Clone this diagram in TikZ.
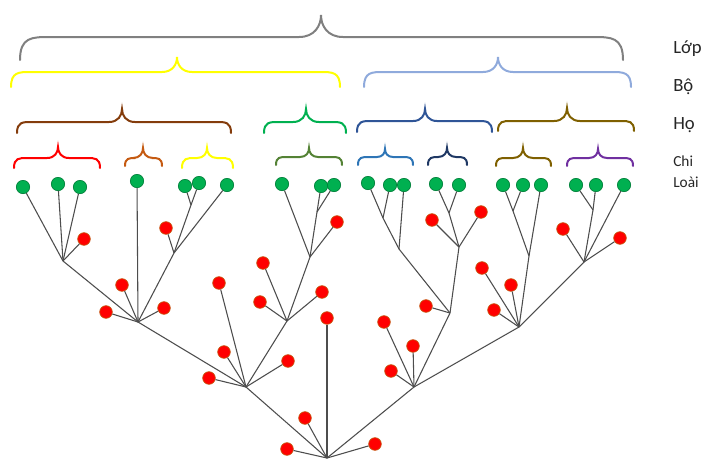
\documentclass[tikz,border=0pt]{standalone}
\usepackage{fontspec}
\setmainfont{Carlito}
\definecolor{leafg}{HTML}{00B050}
\definecolor{leafb}{HTML}{00803A}
\definecolor{redf}{HTML}{FF0000}
\definecolor{redb}{HTML}{C55A11}
\definecolor{linec}{HTML}{4D4D4D}
\definecolor{labc}{HTML}{262626}
\definecolor{bgray}{HTML}{808080}
\definecolor{byellow}{HTML}{FFFF00}
\definecolor{blblue}{HTML}{8FAADC}
\definecolor{bbrown}{HTML}{843C0C}
\definecolor{bgreen}{HTML}{00B050}
\definecolor{bblue}{HTML}{2F5597}
\definecolor{bolive}{HTML}{7F6000}
\definecolor{cred}{HTML}{FF0000}
\definecolor{corange}{HTML}{C55A11}
\definecolor{cgreen}{HTML}{548235}
\definecolor{cblue}{HTML}{2E75B6}
\definecolor{cnavy}{HTML}{1F3864}
\definecolor{cpurple}{HTML}{7030A0}
\newcommand\tbrace[7]{% color,x1,x2,xc,yend,yflat,ytip
 \pgfmathsetmacro\hA{#5-#6}%
 \pgfmathsetmacro\hB{#6-#7}%
 \pgfmathsetmacro\rA{1.3*\hA}%
 \pgfmathsetmacro\rB{1.0*\hB}%
 \draw[br,draw=#1] (#2,#5) .. controls +(0,-\hA) and +(-0.6*\rA,0) .. ({#2+\rA},#6)
   -- ({#4-\rB},#6) .. controls +(0.7*\rB,0) and +(0,0.5*\hB) .. (#4,#7)
   .. controls +(0,0.5*\hB) and +(-0.7*\rB,0) .. ({#4+\rB},#6)
   -- ({#3-\rA},#6) .. controls +(0.6*\rA,0) and +(0,-\hA) .. (#3,#5);
}
\begin{document}
\begin{tikzpicture}[x=0.75pt,y=-0.75pt,
 leaf/.style={circle,fill=leafg,draw=leafb,line width=0.5pt,minimum size=10pt,inner sep=0pt},
 anc/.style={circle,fill=redf,draw=redb,line width=0.5pt,minimum size=9.5pt,inner sep=0pt},
 br/.style={line width=1.5pt,line cap=round},
 edge/.style={draw=linec,line width=0.8pt},
 lab/.style={anchor=west,inner sep=0pt,text=labc,font=\fontsize{14}{16}\selectfont},
 labs/.style={anchor=west,inner sep=0pt,text=labc,font=\fontsize{11.5}{13}\selectfont}]
\useasboundingbox (0,0) rectangle (712,469);
% braces
\tbrace{bgray}{20}{623}{321}{60}{37}{15}
\tbrace{byellow}{11}{340}{177}{87}{72}{57}
\tbrace{blblue}{364}{631}{498}{87}{72}{57}
\tbrace{bbrown}{17}{231}{122}{133}{122}{109}
\tbrace{bgreen}{264}{346}{306}{133}{122}{109}
\tbrace{bblue}{357}{492}{425}{132}{121}{109}
\tbrace{bolive}{498}{634}{567}{131}{121}{108}
\tbrace{cred}{14}{100}{58}{168}{158}{147}
\tbrace{corange}{125}{162}{143}{166}{158}{148}
\tbrace{byellow}{182}{233}{207}{168}{158}{148}
\tbrace{cgreen}{276}{342}{309}{165}{157}{148}
\tbrace{cblue}{358}{413}{385}{165}{157}{149}
\tbrace{cnavy}{428}{467}{447}{165}{157}{148}
\tbrace{bolive}{496}{551}{523}{166}{158}{148}
\tbrace{cpurple}{567}{633}{598}{166}{158}{149}
% labels
\node[lab] (lop) at (673,49) {Lớp};
\node[lab] (bo) at (673,87) {Bộ};
\node[lab] (ho) at (673,125) {Họ};
\node[labs] (chi) at (673,161) {Chi};
\node[labs] (loai) at (673,182) {Loài};
% leaves
\foreach \n/\x/\y in {g1/23/187,g2/58/184,g3/80/187,g4/137/181,g5/185/186,g6/199/183,g7/227/185,
 g8/282/184,g9/321/186,g10/334/185,g11/368/183,g12/390/185,g13/404/185,g14/436/184,g15/459/185,
 g16/503/185,g17/523/185,g18/541/185,g19/576/185,g20/596/185,g21/624/185}
 \node[leaf] (\n) at (\x,\y) {};
% ancestors
\foreach \n/\x/\y in {r1/84/239,r2/122/285,r3/106/312,r4/164/308,r5/166/228,r6/219/283,r7/337/222,
 r8/263/263,r9/260/302,r10/322/292,r11/327/318,r12/224/352,r13/209/378,r14/288/361,r15/305/418,
 r16/287/449,r17/375/444,r18/384/322,r19/413/346,r20/391/371,r21/426/306,r22/432/220,r23/481/212,
 r24/482/268,r25/511/285,r26/494/310,r27/563/229,r28/620/238}
 \node[anc] (\n) at (\x,\y) {};
% junctions
\coordinate (J1) at (63,261);
\coordinate (J2) at (138,322);
\coordinate (J3) at (174,253);
\coordinate (J4) at (191,205);
\coordinate (J5) at (246,387);
\coordinate (J6) at (310,257);
\coordinate (J7) at (317,212);
\coordinate (J8) at (287,321);
\coordinate (root) at (327,458);
\coordinate (J10) at (414,387);
\coordinate (J11) at (450,313);
\coordinate (J13) at (383,218);
\coordinate (J14) at (399,249);
\coordinate (J15) at (459,247);
\coordinate (J16) at (449,213);
\coordinate (J12) at (519,327);
\coordinate (J17) at (513,211);
\coordinate (J18) at (529,256);
\coordinate (J19) at (584,262);
\coordinate (J20) at (593,210);
% edges
\foreach \a/\b in {J1/g1,J1/g2,J1/g3,J1/r1,J1/J2,
 J2/g4,J2/r2,J2/r3,J2/r4,J2/J3,J2/J5,
 J3/r5,J3/g7,J3/J4,J4/g5,J4/g6,
 J5/r6,J5/r12,J5/r13,J5/r14,J5/J8,J5/root,
 J8/J6,J6/g8,J6/J7,J6/r7,J7/g9,J7/g10,
 J8/r8,J8/r9,J8/r10,
 root/r11,root/r15,root/r16,root/r17,root/J10,
 J10/r18,J10/r19,J10/r20,J10/J11,J10/J12,
 J11/r21,J11/J14,J11/J15,J14/J13,J14/g13,J13/g11,J13/g12,
 J15/r22,J15/r23,J15/J16,J16/g14,J16/g15,
 J12/r24,J12/r25,J12/r26,J12/J18,J12/J19,J18/J17,J18/g18,J17/g16,J17/g17,
 J19/r27,J19/r28,J19/J20,J19/g21,J20/g19,J20/g20}
 \draw[edge] (\a) -- (\b);
\end{tikzpicture}
\end{document}
